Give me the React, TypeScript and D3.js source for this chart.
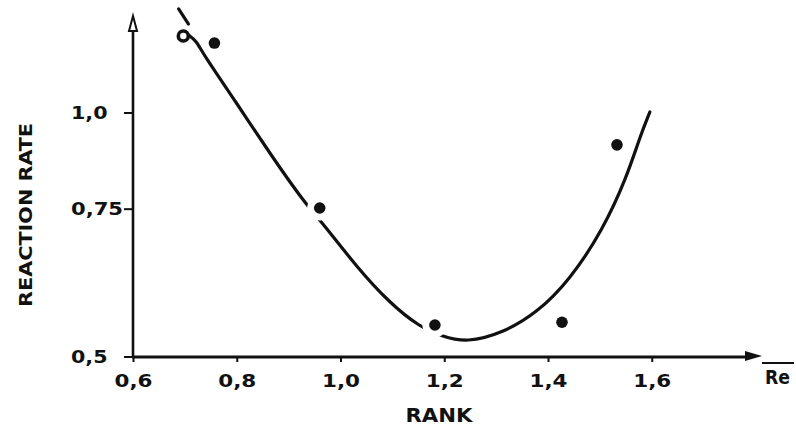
import React from "react";
import * as d3 from "d3";

// measured points (rank vs reaction rate)
const rankPts = [0.696, 0.756, 0.959, 1.181, 1.426, 1.532];
const ratePts = [1.279, 1.25, 0.7525, 0.544, 0.548, 0.907];

// hand-fitted curve
const fitRank = [0.706, 0.7215, 0.733, 0.7987, 0.8623, 0.9299, 0.9646, 1.0302, 1.0938, 1.1517, 1.1941, 1.2424, 1.3118, 1.3774, 1.441, 1.5047, 1.551, 1.5761, 1.5954];
const fitRate = [1.2835, 1.2583, 1.2099, 1.0316, 0.885, 0.7635, 0.7208, 0.6368, 0.5771, 0.5411, 0.5283, 0.519, 0.5326, 0.5617, 0.6144, 0.7065, 0.8239, 0.9289, 1.0031];

// short dashed lead-in above the first point
const dashRank = [0.687, 0.706];
const dashRate = [1.4, 1.331];

const xTicks = [0.6, 0.8, 1.0, 1.2, 1.4, 1.6];
const xTickLabels = ["0,6", "0,8", "1,0", "1,2", "1,4", "1,6"];
const yTicks = [0.5, 0.75, 1.0];
const yTickLabels = ["0,5", "0,75", "1,0"];

const FONT = "'DejaVu Sans Condensed', 'Liberation Sans Narrow', 'DejaVu Sans', sans-serif";
const INK = "#111";

export default function App() {
  const width = 796;
  const height = 429;

  const x = d3.scaleLinear().domain([0.6, 1.8]).range([133.5, 756]);
  // the printed rate axis is compressed (close to log); a pow scale fits it
  const y = d3.scalePow().exponent(-0.25).domain([0.5, 1.0]).range([357, 113]);

  const x0 = 133;
  const y0 = y(0.5);

  const line = d3
    .line<number>()
    .x((_, i) => x(fitRank[i]))
    .y((d) => y(d))
    .curve(d3.curveBasis);

  const dash = d3
    .line<number>()
    .x((_, i) => x(dashRank[i]))
    .y((d) => y(d));

  const labelLen = (s: string) => 15.5 * s.length - 10;

  return (
    <svg
      width={width}
      height={height}
      style={{ position: "absolute", left: 0, top: 0, background: "#fff" }}
    >
      {/* fitted curve */}
      <path d={line(fitRate) || ""} fill="none" stroke={INK} strokeWidth={3.2} strokeLinecap="round" />
      <path d={dash(dashRate) || ""} fill="none" stroke={INK} strokeWidth={3.2} strokeLinecap="round" />

      {/* white halos break the curve around the dots */}
      {rankPts.map((r, i) =>
        i === 0 ? null : <circle key={"h" + i} cx={x(r)} cy={y(ratePts[i])} r={12.5} fill="#fff" />
      )}

      {/* data points */}
      {rankPts.map((r, i) =>
        i === 0 ? (
          <circle key={"p" + i} cx={x(r)} cy={y(ratePts[i])} r={5} fill="#fff" stroke={INK} strokeWidth={3.6} />
        ) : (
          <circle key={"p" + i} cx={x(r)} cy={y(ratePts[i])} r={5.8} fill={INK} />
        )
      )}

      {/* y axis with open arrowhead */}
      <line x1={x0} y1={y0 + 1} x2={x0} y2={30} stroke={INK} strokeWidth={2.6} />
      <path d={`M${x0},16 L${x0 - 4},31 L${x0 + 4},31 Z`} fill="#fff" stroke={INK} strokeWidth={2} />

      {/* x axis with filled arrowhead */}
      <line x1={x0 - 1} y1={y0} x2={748} y2={y0} stroke={INK} strokeWidth={2.8} />
      <path d={`M762,${y0 - 1} L745,${y0 - 6} L745,${y0 + 4} Z`} fill={INK} />

      {/* x ticks */}
      {xTicks.map((t, i) => (
        <g key={"xt" + i}>
          <line x1={x(t)} y1={y0} x2={x(t)} y2={y0 + 5} stroke={INK} strokeWidth={2} />
          <text
            x={x(t)}
            y={387}
            textAnchor="middle"
            fontFamily={FONT}
            fontWeight="bold"
            fontSize={17}
            fill={INK}
            textLength={38}
            lengthAdjust="spacingAndGlyphs"
          >
            {xTickLabels[i]}
          </text>
        </g>
      ))}

      {/* y ticks */}
      {yTicks.map((t, i) => (
        <g key={"yt" + i}>
          <line x1={x0 - 9} y1={y(t)} x2={x0} y2={y(t)} stroke={INK} strokeWidth={2} />
          <text
            x={71}
            y={y(t) + 6}
            textAnchor="start"
            fontFamily={FONT}
            fontWeight="bold"
            fontSize={17}
            fill={INK}
            textLength={labelLen(yTickLabels[i])}
            lengthAdjust="spacingAndGlyphs"
          >
            {yTickLabels[i]}
          </text>
        </g>
      ))}

      {/* axis titles */}
      <text
        x={439}
        y={422}
        textAnchor="middle"
        fontFamily={FONT}
        fontWeight="bold"
        fontSize={20}
        fill={INK}
        textLength={67}
        lengthAdjust="spacingAndGlyphs"
      >
        RANK
      </text>
      <text
        transform="translate(32,215) rotate(-90)"
        textAnchor="middle"
        fontFamily={FONT}
        fontWeight="bold"
        fontSize={17}
        fill={INK}
        textLength={184}
        lengthAdjust="spacingAndGlyphs"
      >
        REACTION RATE
      </text>

      {/* Re with overbar at the end of the x axis */}
      <line x1={762} y1={363} x2={794} y2={363} stroke={INK} strokeWidth={2} />
      <text
        x={765}
        y={384}
        textAnchor="start"
        fontFamily={FONT}
        fontWeight="bold"
        fontSize={19}
        fill={INK}
        textLength={25}
        lengthAdjust="spacingAndGlyphs"
      >
        Re
      </text>
    </svg>
  );
}
